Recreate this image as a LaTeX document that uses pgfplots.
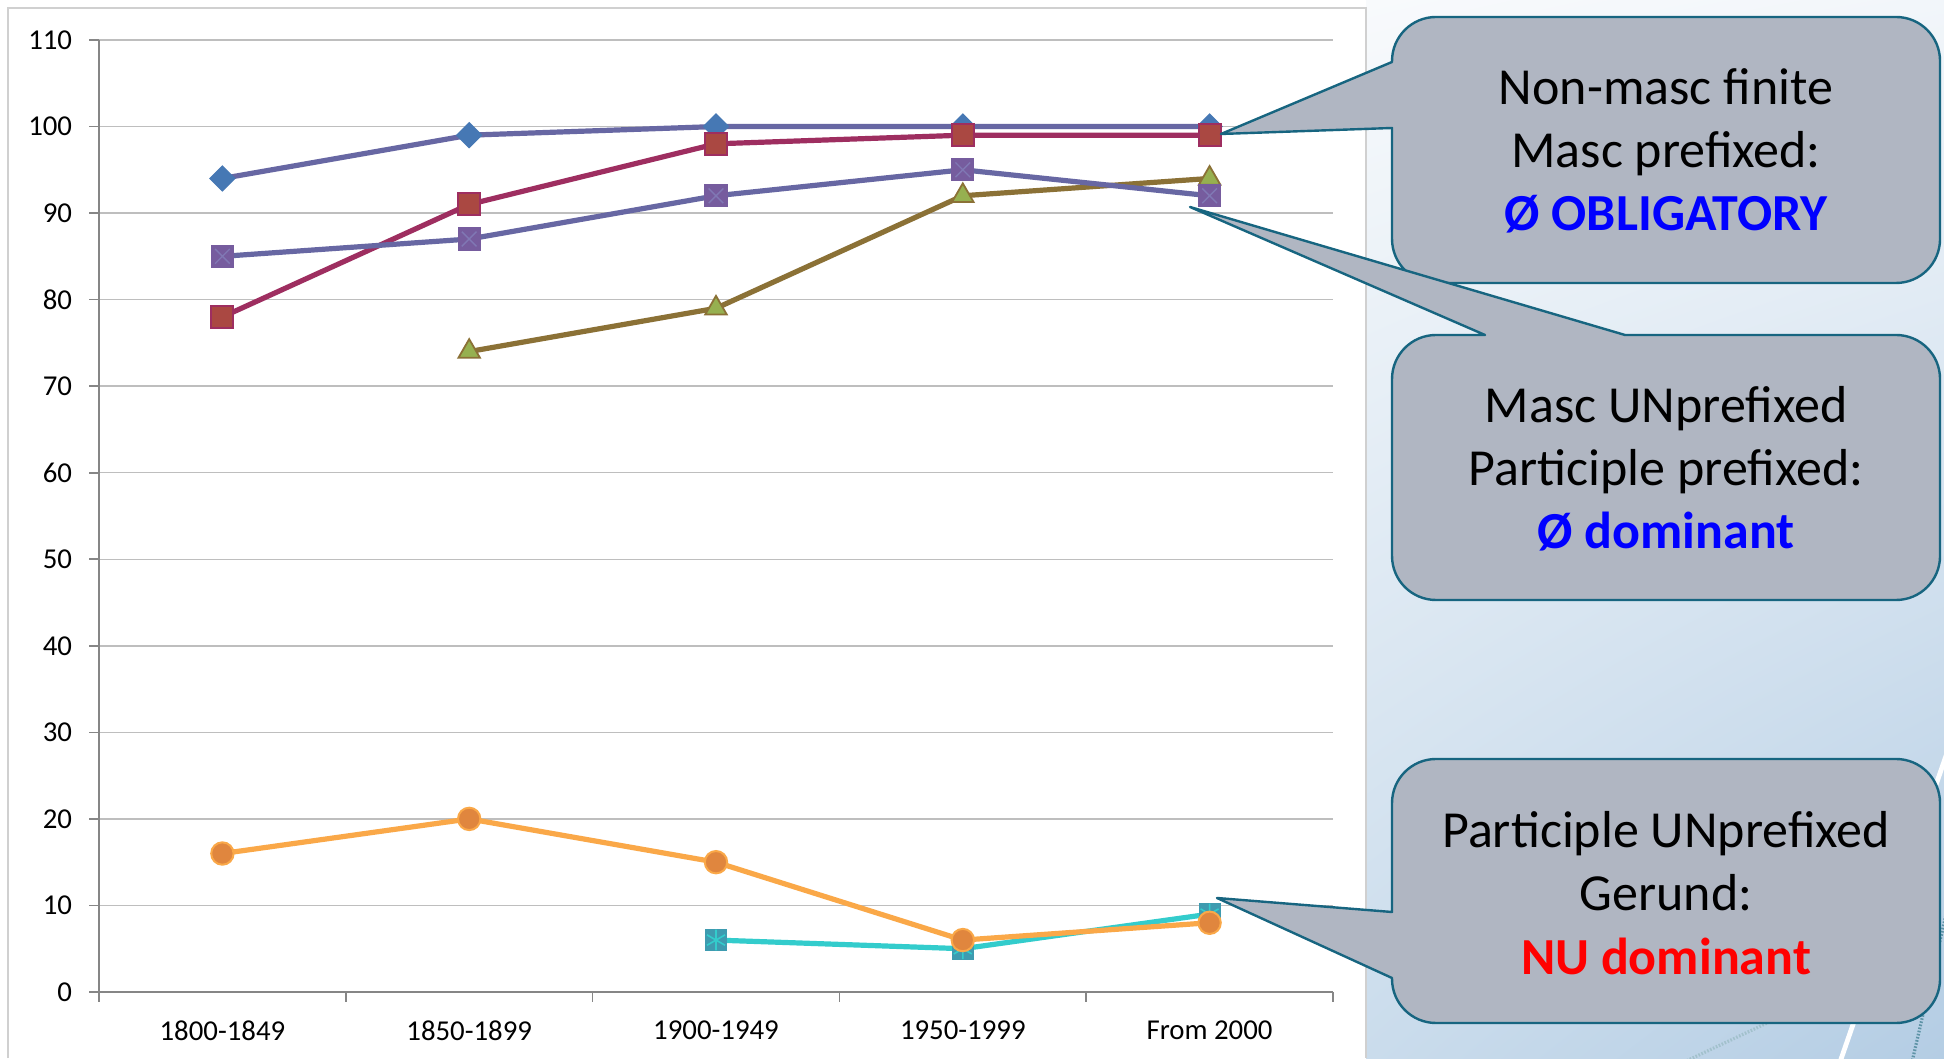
\documentclass[border=0pt]{standalone}
\usepackage{pgfplots}
\pgfplotsset{compat=1.18}
\usetikzlibrary{shadings}
\usepackage{fontspec}
\setmainfont{Carlito}

\definecolor{bgUL}{RGB}{248,250,252}
\definecolor{bgUR}{RGB}{242,246,250}
\definecolor{bgLL}{RGB}{202,220,236}
\definecolor{bgLR}{RGB}{180,205,228}
\definecolor{chartborder}{RGB}{208,208,208}
\definecolor{axisgrey}{RGB}{134,134,134}
\definecolor{gridgrey}{RGB}{190,190,190}
\definecolor{calloutfill}{RGB}{176,182,194}
\definecolor{calloutedge}{RGB}{23,101,128}
\definecolor{sOneLine}{RGB}{103,103,163}
\definecolor{sOneFill}{RGB}{70,120,180}
\definecolor{sTwoLine}{RGB}{158,46,96}
\definecolor{sTwoFill}{RGB}{170,72,66}
\definecolor{sThreeLine}{RGB}{103,103,163}
\definecolor{sThreeFill}{RGB}{118,92,158}
\definecolor{sThreeX}{RGB}{128,120,180}
\definecolor{sFourLine}{RGB}{139,113,54}
\definecolor{sFourFill}{RGB}{150,176,80}
\definecolor{sFiveLine}{RGB}{51,204,204}
\definecolor{sFiveFill}{RGB}{62,155,176}
\definecolor{sSixLine}{RGB}{250,168,72}
\definecolor{sSixFill}{RGB}{224,134,62}

\begin{document}
\begin{tikzpicture}
% slide background
\fill[white] (0,0) rectangle (486pt,264.5pt);
\shade[upper left=bgUL, upper right=bgUR, lower left=bgLL, lower right=bgLR]
  (341.5pt,0) rectangle (486pt,264.5pt);
% decorative strokes in the lower right corner
\begin{scope}
\clip (341.5pt,0) rectangle (486pt,264.5pt);
\draw[white, line width=1.2pt] (487pt,77pt) -- (460pt,-1pt);
\draw[calloutedge!70, line width=0.8pt, dash pattern=on 0.4pt off 0.4pt] (487pt,38pt) -- (478pt,-1pt);
\draw[calloutedge!40, line width=0.8pt, dash pattern=on 0.4pt off 0.4pt] (421pt,-1pt) -- (470pt,22pt);
\end{scope}
% chart area
\fill[white] (2pt,0) rectangle (341.5pt,262.5pt);
\draw[chartborder, line width=0.35pt] (2pt,0) -- (2pt,262.5pt) -- (341.5pt,262.5pt) -- (341.5pt,0);

\begin{axis}[
  at={(24.75pt,16.5pt)}, anchor=south west,
  scale only axis, width=308.5pt, height=238pt,
  xmin=-0.5, xmax=4.5, ymin=0, ymax=110,
  ytick={0,10,...,110},
  xtick={-0.5,0.5,...,4.5},
  xticklabels={,,,,,},
  extra x ticks={0,1,2,3,4},
  extra x tick labels={1800-1849,1850-1899,1900-1949,1950-1999,From 2000},
  extra x tick style={major tick length=0pt, grid=none},
  axis lines=left,
  axis line style={-, draw=axisgrey, line width=0.4pt},
  tick style={draw=axisgrey, line width=0.4pt},
  tick align=outside,
  major tick length=2.4pt,
  ymajorgrids,
  grid style={gridgrey, line width=0.35pt},
  /pgf/number format/assume math mode=true,
  ticklabel style={font=\fontsize{7.2}{8.6}\selectfont, text=black},
  yticklabel style={xshift=-0.8pt},
  xticklabel style={yshift=-3.6pt},
  clip=false,
]
% Non-masc finite
\addplot[sOneLine, line width=1.3pt, mark=square*, mark size=2.2pt,
  mark options={solid, rotate=45, fill=sOneFill, draw=sOneFill, line width=0.3pt}]
  coordinates {(0,94) (1,99) (2,100) (3,100) (4,100)};
% Masc prefixed
\addplot[sTwoLine, line width=1.3pt, mark=square*, mark size=2.75pt,
  mark options={solid, fill=sTwoFill, draw=sTwoLine, line width=0.5pt}]
  coordinates {(0,78) (1,91) (2,98) (3,99) (4,99)};
% Participle prefixed
\addplot[sFourLine, line width=1.3pt, mark=triangle*, mark size=3.1pt,
  mark options={solid, fill=sFourFill, draw=sFourLine, line width=0.45pt}]
  coordinates {(1,74) (2,79) (3,92) (4,94)};
% Masc unprefixed
\addplot[sThreeLine, line width=1.3pt, mark=square*, mark size=2.75pt,
  mark options={solid, fill=sThreeFill, draw=sThreeFill, line width=0.3pt}]
  coordinates {(0,85) (1,87) (2,92) (3,95) (4,92)};
\addplot[only marks, forget plot, mark=x, mark size=2.6pt,
  mark options={solid, draw=sThreeX, line width=0.35pt}]
  coordinates {(0,85) (1,87) (2,92) (3,95) (4,92)};
% Gerund
\addplot[sFiveLine, line width=1.3pt, mark=square*, mark size=2.6pt,
  mark options={solid, fill=sFiveFill, draw=sFiveFill, line width=0.3pt}]
  coordinates {(2,6) (3,5) (4,9)};
\addplot[only marks, forget plot, mark=asterisk, mark size=2.6pt,
  mark options={solid, draw=sFiveLine, line width=0.4pt}]
  coordinates {(2,6) (3,5) (4,9)};
% Participle unprefixed
\addplot[sSixLine, line width=1.3pt, mark=*, mark size=2.8pt,
  mark options={solid, fill=sSixFill, draw=sSixLine, line width=0.5pt}]
  coordinates {(0,16) (1,20) (2,15) (3,6) (4,8)};
\end{axis}

% callouts
\def\r{11pt}
\begin{scope}[fill=calloutfill, draw=calloutedge, line width=0.6pt, line join=round]
\filldraw (348pt,249pt) -- (305.25pt,231pt) -- (348pt,232.5pt)
  -- (348pt,204.75pt) arc[start angle=180, end angle=270, radius=\r]
  -- (474pt,193.75pt) arc[start angle=270, end angle=360, radius=\r]
  -- (485pt,249.25pt) arc[start angle=0, end angle=90, radius=\r]
  -- (359pt,260.25pt) arc[start angle=90, end angle=180, radius=\r]
  -- cycle;
\filldraw (406.25pt,180.75pt) -- (297.5pt,212.75pt) -- (371.25pt,180.75pt)
  -- (359pt,180.75pt) arc[start angle=90, end angle=180, radius=\r]
  -- (348pt,125.5pt) arc[start angle=180, end angle=270, radius=\r]
  -- (474pt,114.5pt) arc[start angle=270, end angle=360, radius=\r]
  -- (485pt,169.75pt) arc[start angle=0, end angle=90, radius=\r]
  -- cycle;
\filldraw (348pt,36.5pt) -- (304.25pt,40pt) -- (348pt,20pt)
  -- (348pt,19.75pt) arc[start angle=180, end angle=270, radius=\r]
  -- (474pt,8.75pt) arc[start angle=270, end angle=360, radius=\r]
  -- (485pt,63.75pt) arc[start angle=0, end angle=90, radius=\r]
  -- (359pt,74.75pt) arc[start angle=90, end angle=180, radius=\r]
  -- cycle;
\end{scope}

\begin{scope}[every node/.style={align=center, font=\fontsize{13}{15.8}\selectfont, inner sep=0pt}]
\node at (416.5pt,226.75pt) {Non-masc finite\\Masc prefixed:\\\textcolor{blue}{\bfseries Ø OBLIGATORY}};
\node at (416.5pt,147.25pt) {Masc UNprefixed\\Participle prefixed:\\\textcolor{blue}{\bfseries Ø dominant}};
\node at (416.5pt,41.25pt) {Participle UNprefixed\\Gerund:\\\textcolor{red}{\bfseries NU dominant}};
\end{scope}

% the page is exactly the slide
\pgfresetboundingbox
\path[use as bounding box] (0,0) rectangle (486pt,264.5pt);
\end{tikzpicture}
\end{document}
